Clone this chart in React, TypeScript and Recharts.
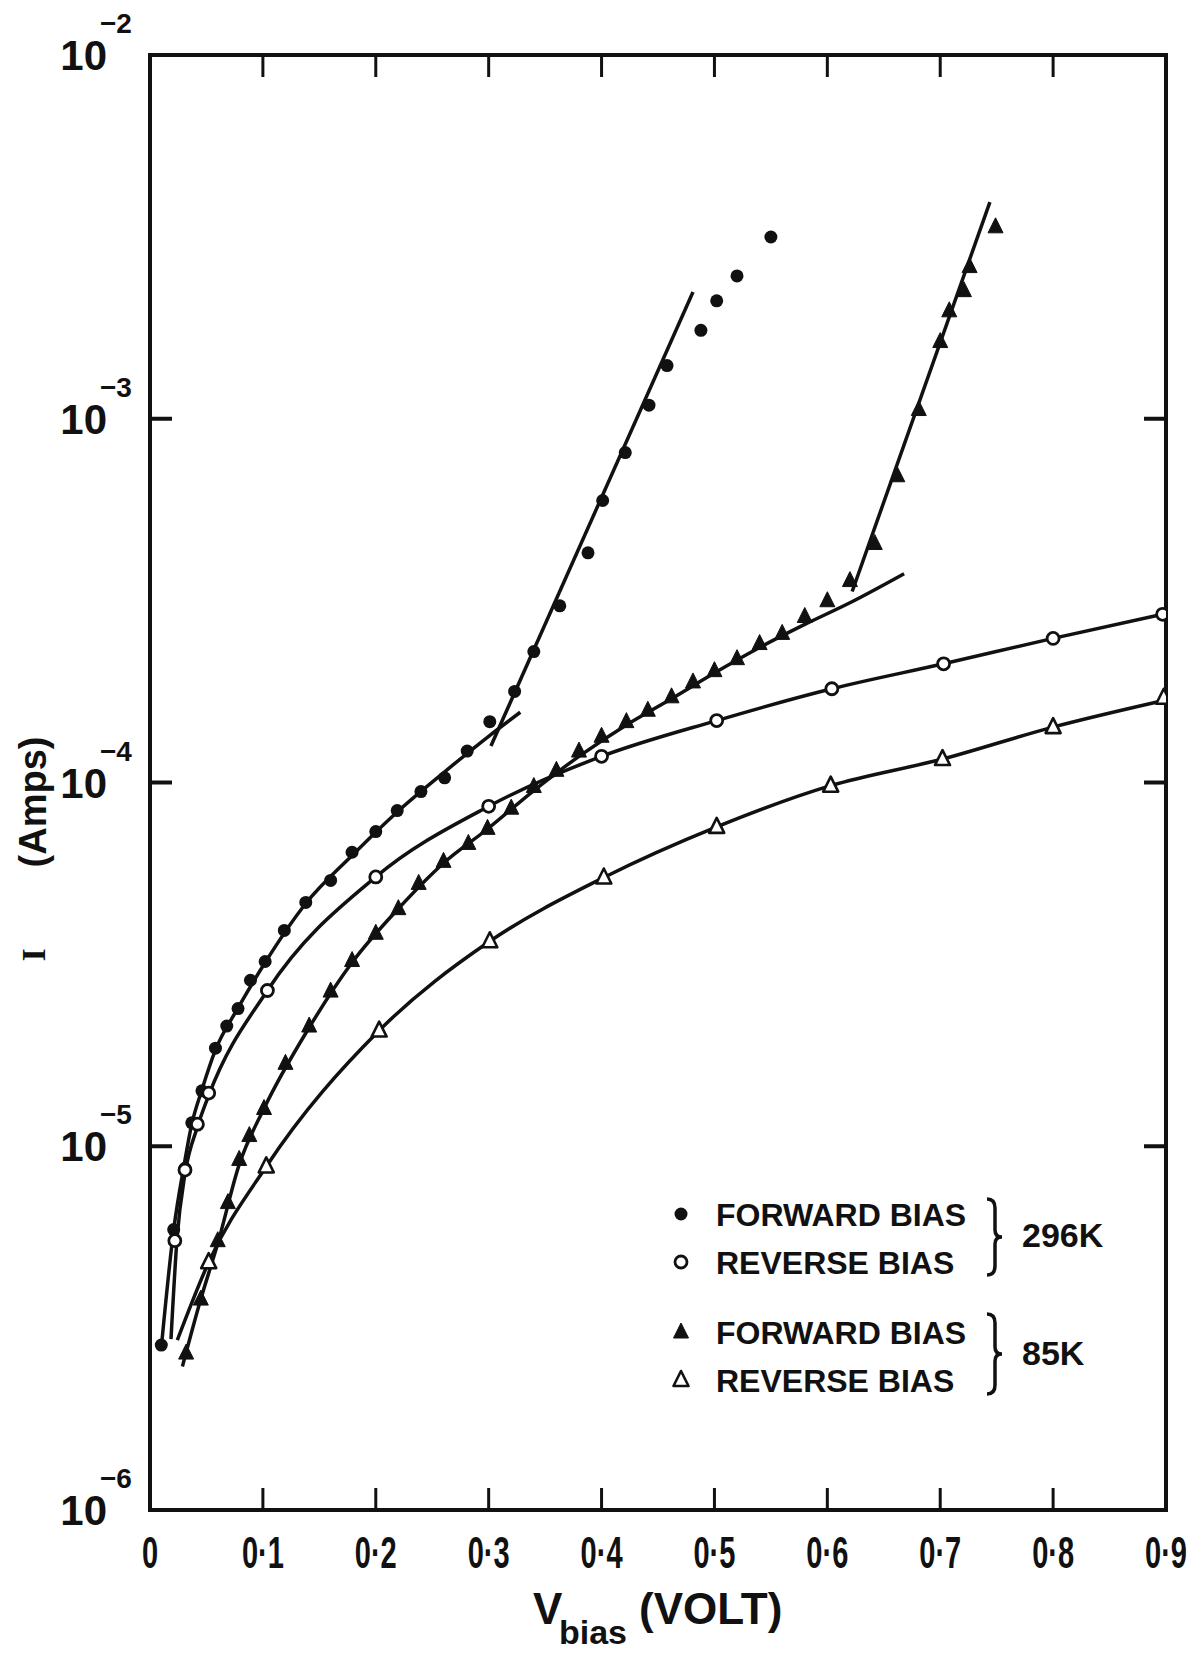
import React from 'react';
import { ComposedChart, XAxis, YAxis, Line, Scatter } from 'recharts';

// I-V characteristics, log current vs bias voltage
const INK = '#111';
const FONT = '"Liberation Sans", Arial, sans-serif';

const X_TICKS = [0, 0.1, 0.2, 0.3, 0.4, 0.5, 0.6, 0.7, 0.8, 0.9];
const Y_TICKS = [1e-6, 1e-5, 1e-4, 1e-3, 1e-2];

// measured points [V, I]
const fwd296: [number, number][] = [
  [0.010, 2.84e-6], [0.021, 5.9e-6], [0.031, 8.7e-6], [0.037, 1.16e-5], [0.046, 1.42e-5],
  [0.058, 1.86e-5], [0.068, 2.14e-5], [0.078, 2.39e-5], [0.089, 2.86e-5], [0.102, 3.22e-5],
  [0.119, 3.92e-5], [0.138, 4.68e-5], [0.160, 5.38e-5], [0.179, 6.43e-5], [0.200, 7.33e-5],
  [0.219, 8.37e-5], [0.240, 9.44e-5], [0.261, 1.03e-4], [0.281, 1.22e-4], [0.301, 1.47e-4],
  [0.323, 1.78e-4], [0.340, 2.29e-4], [0.363, 3.06e-4], [0.388, 4.28e-4], [0.401, 5.96e-4],
  [0.421, 8.07e-4], [0.442, 1.09e-3], [0.458, 1.40e-3], [0.488, 1.75e-3], [0.502, 2.11e-3],
  [0.520, 2.47e-3], [0.550, 3.16e-3],
];
const rev296: [number, number][] = [
  [0.022, 5.5e-6], [0.031, 8.6e-6], [0.042, 1.15e-5], [0.052, 1.4e-5], [0.104, 2.68e-5],
  [0.200, 5.5e-5], [0.300, 8.6e-5], [0.400, 1.18e-4], [0.502, 1.48e-4], [0.604, 1.81e-4],
  [0.703, 2.12e-4], [0.800, 2.49e-4], [0.897, 2.9e-4],
];
const fwd85: [number, number][] = [
  [0.032, 2.7e-6], [0.045, 3.8e-6], [0.060, 5.5e-6], [0.069, 7.0e-6], [0.079, 9.2e-6],
  [0.088, 1.07e-5], [0.101, 1.27e-5], [0.120, 1.69e-5], [0.141, 2.14e-5], [0.160, 2.67e-5],
  [0.179, 3.24e-5], [0.200, 3.85e-5], [0.220, 4.5e-5], [0.238, 5.28e-5], [0.260, 6.07e-5],
  [0.282, 6.8e-5], [0.299, 7.48e-5], [0.320, 8.5e-5], [0.340, 9.75e-5], [0.360, 1.08e-4],
  [0.380, 1.22e-4], [0.400, 1.34e-4], [0.422, 1.47e-4], [0.441, 1.58e-4], [0.462, 1.72e-4],
  [0.481, 1.89e-4], [0.500, 2.03e-4], [0.520, 2.19e-4], [0.540, 2.41e-4], [0.560, 2.57e-4],
  [0.580, 2.86e-4], [0.600, 3.16e-4], [0.620, 3.59e-4], [0.642, 4.54e-4], [0.662, 6.97e-4],
  [0.681, 1.06e-3], [0.700, 1.63e-3], [0.708, 1.98e-3], [0.721, 2.25e-3], [0.726, 2.62e-3],
  [0.749, 3.37e-3],
];
const rev85: [number, number][] = [
  [0.052, 4.8e-6], [0.103, 8.8e-6], [0.203, 2.08e-5], [0.301, 3.66e-5], [0.402, 5.48e-5],
  [0.502, 7.55e-5], [0.603, 9.8e-5], [0.702, 1.16e-4], [0.800, 1.42e-4], [0.898, 1.71e-4],
];

// hand-drawn curves through the points
const fitFwd296: [number, number][] = [
  [0.0105, 2.9e-6], [0.021, 5.9e-6], [0.030, 8.8e-6], [0.037, 1.15e-5], [0.046, 1.43e-5],
  [0.058, 1.84e-5], [0.078, 2.4e-5], [0.102, 3.2e-5], [0.138, 4.65e-5], [0.179, 6.3e-5],
  [0.219, 8.3e-5], [0.261, 1.07e-4], [0.300, 1.34e-4], [0.328, 1.56e-4],
];
const steepFwd296: [number, number][] = [[0.302, 1.26e-4], [0.481, 2.23e-3]];
const fitRev296: [number, number][] = [
  [0.0186, 2.95e-6], [0.024, 5.6e-6], [0.031, 8.4e-6], [0.042, 1.13e-5], [0.052, 1.38e-5],
  [0.104, 2.68e-5], [0.200, 5.5e-5], [0.300, 8.6e-5], [0.400, 1.18e-4], [0.502, 1.48e-4],
  [0.604, 1.81e-4], [0.703, 2.12e-4], [0.800, 2.49e-4], [0.897, 2.9e-4],
];
const fitFwd85: [number, number][] = [
  [0.0287, 2.48e-6], [0.045, 3.8e-6], [0.060, 5.4e-6], [0.079, 8.9e-6], [0.101, 1.27e-5],
  [0.141, 2.12e-5], [0.179, 3.2e-5], [0.220, 4.5e-5], [0.260, 6.0e-5], [0.299, 7.45e-5],
  [0.340, 9.5e-5], [0.380, 1.18e-4], [0.422, 1.44e-4], [0.462, 1.7e-4], [0.500, 2.0e-4],
  [0.540, 2.35e-4], [0.580, 2.72e-4], [0.620, 3.12e-4], [0.668, 3.75e-4],
];
const steepFwd85: [number, number][] = [[0.622, 3.35e-4], [0.744, 3.94e-3]];
const fitRev85: [number, number][] = [
  [0.0242, 2.93e-6], [0.052, 4.8e-6], [0.103, 8.8e-6], [0.203, 2.08e-5], [0.301, 3.66e-5],
  [0.402, 5.48e-5], [0.502, 7.55e-5], [0.603, 9.8e-5], [0.702, 1.16e-4], [0.800, 1.42e-4],
  [0.898, 1.68e-4],
];

const LEGEND = [
  { kind: 'dot', label: 'FORWARD BIAS' },
  { kind: 'ring', label: 'REVERSE BIAS' },
  { kind: 'tri', label: 'FORWARD BIAS' },
  { kind: 'otri', label: 'REVERSE BIAS' },
];
const GROUPS = ['296K', '85K'];

const pts = (a: [number, number][]) => a.map(([v, i]) => ({ v, i }));

function Mark({ cx, cy, kind }: { cx: number; cy: number; kind: string }) {
  if (cx == null || cy == null) return null;
  if (kind === 'dot') return <circle cx={cx} cy={cy} r={6.5} fill={INK} />;
  if (kind === 'ring')
    return <circle cx={cx} cy={cy} r={6} fill="#fff" stroke={INK} strokeWidth={2.8} />;
  const d = `M${cx},${cy - 9} L${cx + 7.5},${cy + 6} L${cx - 7.5},${cy + 6} Z`;
  if (kind === 'tri') return <path d={d} fill={INK} stroke={INK} strokeWidth={1} />;
  return <path d={d} fill="#fff" stroke={INK} strokeWidth={2.6} strokeLinejoin="round" />;
}

const txt = { fontFamily: FONT, fontWeight: 700, fill: INK };

const LeftTick = ({ x, y, payload }: any) => {
  const e = Math.round(Math.log10(payload.value));
  const edge = e === -2 || e === -6;
  return (
    <g>
      {!edge && <line x1={x} x2={x + 22} y1={y} y2={y} stroke={INK} strokeWidth={4} />}
      <text {...txt} x={x - 43} y={y + 15} textAnchor="end" fontSize={42}>10</text>
      <text {...txt} x={x - 50} y={y - 22} fontSize={28}>{'\u2212' + Math.abs(e)}</text>
    </g>
  );
};

const RightTick = ({ x, y, payload }: any) => {
  const e = Math.round(Math.log10(payload.value));
  if (e === -2 || e === -6) return <g />;
  return <line x1={x} x2={x - 22} y1={y} y2={y} stroke={INK} strokeWidth={4} />;
};

const BottomTick = ({ x, y, payload }: any) => {
  const v = payload.value;
  const label = v === 0 ? '0' : '0\u00B7' + Math.round(v * 10);
  return (
    <g>
      {v > 0 && v < 0.9 && <line x1={x} x2={x} y1={y} y2={y - 22} stroke={INK} strokeWidth={3} />}
      <text {...txt} transform={`translate(${x},${y + 58}) scale(0.66,1)`} textAnchor="middle" fontSize={44}>
        {label}
      </text>
    </g>
  );
};

const TopTick = ({ x, y, payload }: any) => {
  const v = payload.value;
  if (v <= 0 || v >= 0.9) return <g />;
  return <line x1={x} x2={x} y1={y} y2={y + 22} stroke={INK} strokeWidth={3} />;
};

const W = 1187;
const H = 1647;
const axisLine = { stroke: INK, strokeWidth: 4, strokeLinecap: 'square' as const };

const brace = (x: number, y0: number, y1: number) => {
  const m = (y0 + y1) / 2;
  return `M${x},${y0} Q${x + 8},${y0} ${x + 8},${y0 + 9} L${x + 8},${m - 7} Q${x + 8},${m} ${x + 15},${m}
    Q${x + 8},${m} ${x + 8},${m + 7} L${x + 8},${y1 - 9} Q${x + 8},${y1} ${x},${y1}`;
};

export default function App() {
  const fits: [number, number][][] = [fitFwd296, fitRev296, fitFwd85, fitRev85];
  const steep = [steepFwd296, steepFwd85];
  const series: [[number, number][], string][] = [
    [fwd296, 'dot'], [rev296, 'ring'], [fwd85, 'tri'], [rev85, 'otri'],
  ];
  const rowY = [1206, 1254, 1324, 1372];

  return (
    <div style={{ position: 'relative', width: W, height: H, background: '#fff' }}>
      <ComposedChart width={W} height={H} margin={{ top: 0, right: 0, bottom: 0, left: 0 }}>
        <XAxis
          type="number" dataKey="v" domain={[0, 0.9]} ticks={X_TICKS} interval={0}
          height={145} tickSize={0} tickMargin={0} tickLine={false} axisLine={axisLine}
          tick={<BottomTick />} allowDataOverflow
        />
        <XAxis
          xAxisId="top" orientation="top" type="number" dataKey="v" domain={[0, 0.9]}
          ticks={X_TICKS} interval={0} height={47} tickSize={0} tickMargin={0}
          tickLine={false} axisLine={axisLine} tick={<TopTick />} allowDataOverflow
        />
        <YAxis
          type="number" dataKey="i" scale="log" domain={[1e-6, 1e-2]} ticks={Y_TICKS}
          interval={0} width={142} tickSize={0} tickMargin={0} tickLine={false}
          axisLine={axisLine} tick={<LeftTick />} allowDataOverflow
        />
        <YAxis
          yAxisId="right" orientation="right" type="number" dataKey="i" scale="log"
          domain={[1e-6, 1e-2]} ticks={Y_TICKS} interval={0} width={29} tickSize={0}
          tickMargin={0} tickLine={false} axisLine={axisLine} tick={<RightTick />} allowDataOverflow
        />
        {fits.map((f, k) => (
          <Line
            key={'f' + k} data={pts(f)} dataKey="i" type="monotone" dot={false}
            stroke={INK} strokeWidth={3.5} isAnimationActive={false}
          />
        ))}
        {steep.map((f, k) => (
          <Line
            key={'s' + k} data={pts(f)} dataKey="i" type="linear" dot={false}
            stroke={INK} strokeWidth={3.5} isAnimationActive={false}
          />
        ))}
        {series.map(([d, kind], k) => (
          <Scatter
            key={'p' + k} data={pts(d)} dataKey="i" isAnimationActive={false}
            shape={(p: any) => <Mark cx={p.cx} cy={p.cy} kind={kind} />}
          />
        ))}
      </ComposedChart>

      <svg width={W} height={H} style={{ position: 'absolute', left: 0, top: 0, pointerEvents: 'none' }}>
        {LEGEND.map((l, k) => (
          <g key={k}>
            <Mark cx={673} cy={rowY[k]} kind={l.kind} />
            <text {...txt} x={708} y={rowY[k] + 11.5} fontSize={32}>{l.label}</text>
          </g>
        ))}
        <path d={brace(979, 1191, 1267)} fill="none" stroke={INK} strokeWidth={3.5} />
        <path d={brace(979, 1306, 1386)} fill="none" stroke={INK} strokeWidth={3.5} />
        <text {...txt} x={1014} y={1239} fontSize={34}>{GROUPS[0]}</text>
        <text {...txt} x={1014} y={1357} fontSize={34}>{GROUPS[1]}</text>

        <text {...txt} transform="translate(38,794) rotate(-90)" textAnchor="middle" fontSize={38}>(Amps)</text>
        <text
          transform="translate(37,947) rotate(-90)" textAnchor="middle" fontSize={34}
          fontFamily='"Liberation Serif", serif' fontWeight={700} fill={INK}
        >
          I
        </text>

        <text {...txt} x={525} y={1616} fontSize={44}>V</text>
        <text {...txt} x={551} y={1636} fontSize={34}>bias</text>
        <text {...txt} x={631} y={1616} fontSize={44}>(VOLT)</text>
      </svg>
    </div>
  );
}
